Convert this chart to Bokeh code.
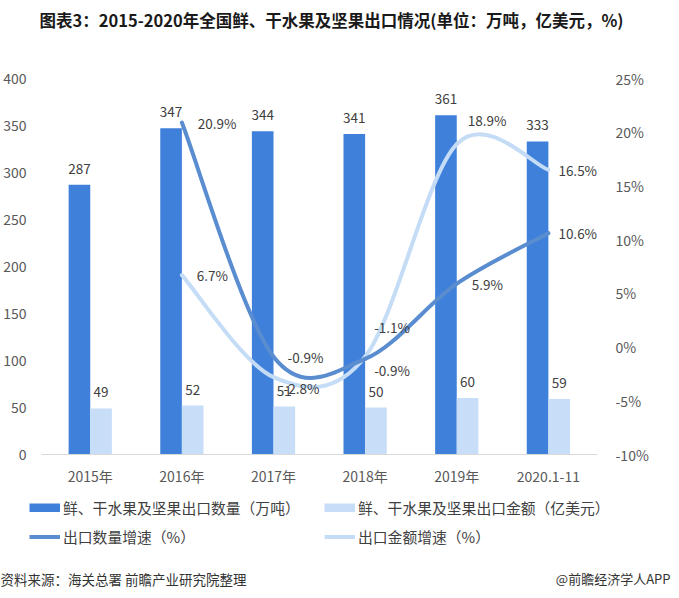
from bokeh.plotting import figure
from bokeh.layouts import column, row
from bokeh.models import (Range1d, LinearAxis, FixedTicker, PrintfTickFormatter,
                          ColumnDataSource, Legend, LegendItem, Label)
from bokeh.core.properties import value
from bokeh.transform import dodge
from bokeh.embed import file_html
from bokeh.resources import INLINE

# ---------------- data ----------------
categories = ["2015年", "2016年", "2017年", "2018年", "2019年", "2020.1-11"]
export_volume = [287, 347, 344, 341, 361, 333]          # 万吨
export_value = [49, 52, 51, 50, 60, 59]                 # 亿美元
volume_growth = [None, 20.9, -0.9, -1.1, 5.9, 10.6]     # %
value_growth = [None, 6.7, -2.8, -0.9, 18.9, 16.5]      # %
left_ticks = [0, 50, 100, 150, 200, 250, 300, 350, 400]
right_ticks = [-10, -5, 0, 5, 10, 15, 20, 25]
series_names = ["鲜、干水果及坚果出口数量（万吨）", "鲜、干水果及坚果出口金额（亿美元）",
                "出口数量增速（%）", "出口金额增速（%）"]
title_text = "图表3：2015-2020年全国鲜、干水果及坚果出口情况(单位：万吨，亿美元，%)"
source_text = "资料来源：海关总署 前瞻产业研究院整理"
credit_text = "@前瞻经济学人APP"

# ---------------- style ----------------
FONT = "Noto Sans CJK SC"
DARK = "#3f80db"
LIGHT = "#c8ddf7"
DARK_LINE = "#5a8dd0"
LIGHT_LINE = "#c4dcf6"
TXT = "#404040"
TICK = "#595959"
BAR_W = 0.236
BAR_OFF = 0.118
W = 671
NAN = float("nan")
# label offsets (screen px) for growth labels
vol_lbl_dx = [16, 14, 9, 15, 10]
vol_lbl_dy = [0, 0, -32, 0, 0]
val_lbl_dx = [15, 10, 9, 11, 10]
val_lbl_dy = [0, 11, 13, -24, 0]

xs = list(range(len(categories)))


def blank(height):
    f = figure(width=W, height=height, x_range=Range1d(0, W), y_range=Range1d(0, height),
               x_axis_type=None, y_axis_type=None, output_backend="svg", toolbar_location=None,
               min_border_left=0, min_border_right=0, min_border_top=0, min_border_bottom=0)
    f.outline_line_color = None
    f.background_fill_color = "white"
    f.border_fill_color = "white"
    f.xgrid.visible = False
    f.ygrid.visible = False
    return f


# ---------------- header ----------------
head = blank(44)
head.add_layout(Label(x=331, y=25, x_units="screen", y_units="screen", text=title_text,
                      text_align="center", text_baseline="middle", text_font=FONT,
                      text_font_size="16.5px", text_font_style="bold", text_color="#1a1a1a"))

# ---------------- main chart ----------------
p = figure(width=W, height=446, x_range=Range1d(-0.532, 5.536), y_range=Range1d(0, 400),
           output_backend="svg", toolbar_location=None,
           min_border_left=32, min_border_right=74, min_border_top=34, min_border_bottom=36)
p.outline_line_color = None
p.background_fill_color = "white"
p.border_fill_color = "white"
p.xgrid.visible = False
p.ygrid.visible = False
p.extra_y_ranges = {"pct": Range1d(-10, 25)}

ya = p.yaxis[0]
ya.ticker = FixedTicker(ticks=left_ticks)
ya.axis_line_color = None
ya.major_tick_line_color = None
ya.minor_tick_line_color = None
ya.major_label_standoff = 9
ya.major_label_text_font = FONT
ya.major_label_text_font_size = "14px"
ya.major_label_text_color = TICK

ra = LinearAxis(y_range_name="pct", ticker=FixedTicker(ticks=right_ticks),
                formatter=PrintfTickFormatter(format="%d%%"))
ra.axis_line_color = None
ra.major_tick_line_color = None
ra.minor_tick_line_color = None
ra.major_label_standoff = 12
ra.major_label_text_font = FONT
ra.major_label_text_font_size = "14px"
ra.major_label_text_color = TICK
p.add_layout(ra, "right")

xa = p.xaxis[0]
xa.ticker = FixedTicker(ticks=xs)
xa.major_label_overrides = {i: c for i, c in enumerate(categories)}
xa.axis_line_color = "#d9d9d9"
xa.axis_line_width = 1
xa.major_tick_line_color = None
xa.minor_tick_line_color = None
xa.major_label_standoff = 5
xa.major_label_text_font = FONT
xa.major_label_text_font_size = "14px"
xa.major_label_text_color = TICK

bsrc = ColumnDataSource(dict(x=xs, vol=export_volume, val=export_value,
                             vol_lbl=[str(v) for v in export_volume],
                             val_lbl=[str(v) for v in export_value]))
p.vbar(x=dodge("x", -BAR_OFF), top="vol", width=BAR_W, source=bsrc,
       fill_color=DARK, line_color=None)
p.vbar(x=dodge("x", BAR_OFF), top="val", width=BAR_W, source=bsrc,
       fill_color=LIGHT, line_color=None)
for col, lbl, off in (("vol", "vol_lbl", -BAR_OFF), ("val", "val_lbl", BAR_OFF)):
    p.text(x=dodge("x", off), y=col, text=lbl, source=bsrc, text_align="center",
           text_baseline="middle", y_offset=-16, text_font=value(FONT),
           text_font_size="13.5px", text_color=TXT)


def smooth_segments(xv, yv):
    pts = [(x, y) for x, y in zip(xv, yv) if y is not None]
    n = len(pts)
    seg = dict(x0=[], y0=[], x1=[], y1=[], cx0=[], cy0=[], cx1=[], cy1=[])
    for i in range(n - 1):
        pa = pts[i - 1] if i > 0 else pts[i]
        pb, pc = pts[i], pts[i + 1]
        pd = pts[i + 2] if i + 2 < n else pts[i + 1]
        seg["x0"].append(pb[0]); seg["y0"].append(pb[1])
        seg["x1"].append(pc[0]); seg["y1"].append(pc[1])
        seg["cx0"].append(pb[0] + (pc[0] - pa[0]) / 6)
        seg["cy0"].append(pb[1] + (pc[1] - pa[1]) / 6)
        seg["cx1"].append(pc[0] - (pd[0] - pb[0]) / 6)
        seg["cy1"].append(pc[1] - (pd[1] - pb[1]) / 6)
    return seg


for growth, color in ((value_growth, LIGHT_LINE), (volume_growth, DARK_LINE)):
    s = ColumnDataSource(smooth_segments(xs, growth))
    p.bezier(x0="x0", y0="y0", x1="x1", y1="y1", cx0="cx0", cy0="cy0", cx1="cx1", cy1="cy1",
             source=s, y_range_name="pct", line_color=color, line_width=4, line_cap="round")

for growth, dx, dy in ((volume_growth, vol_lbl_dx, vol_lbl_dy), (value_growth, val_lbl_dx, val_lbl_dy)):
    gx = [x for x, g in zip(xs, growth) if g is not None]
    gy = [g for g in growth if g is not None]
    ls = ColumnDataSource(dict(x=gx, y=gy, t=[f"{g}%" for g in gy], dx=dx, dy=dy))
    p.text(x="x", y="y", text="t", x_offset="dx", y_offset="dy", source=ls,
           y_range_name="pct", text_align="left", text_baseline="middle",
           text_font=value(FONT), text_font_size="13.5px", text_color=TXT)

# ---------------- legend + footer ----------------
foot = blank(100)
proxies = []
for color, lw in ((DARK, 9), (LIGHT, 9), (DARK_LINE, 4), (LIGHT_LINE, 4)):
    proxies.append(foot.line(x=[NAN, NAN], y=[NAN, NAN], line_color=color, line_width=lw))

legend_style = dict(orientation="vertical", glyph_width=31, glyph_height=9, label_height=20,
                    spacing=8, label_standoff=3, padding=0, margin=0, border_line_color=None,
                    background_fill_alpha=0, label_text_font=FONT,
                    label_text_font_size="14.8px", label_text_color=TXT)
leg_a = Legend(items=[LegendItem(label=series_names[0], renderers=[proxies[0]]),
                      LegendItem(label=series_names[2], renderers=[proxies[2]])],
               location=(29, 43), **legend_style)
leg_b = Legend(items=[LegendItem(label=series_names[1], renderers=[proxies[1]]),
                      LegendItem(label=series_names[3], renderers=[proxies[3]])],
               location=(324, 43), **legend_style)
foot.add_layout(leg_a, "center")
foot.add_layout(leg_b, "center")
foot.add_layout(Label(x=0, y=12, x_units="screen", y_units="screen", text=source_text,
                      text_align="left", text_baseline="middle", text_font=FONT,
                      text_font_size="13.5px", text_color="#333333"))
foot.add_layout(Label(x=670, y=12, x_units="screen", y_units="screen", text=credit_text,
                      text_align="right", text_baseline="middle", text_font=FONT,
                      text_font_size="13px", text_color="#333333"))

layout = column(row(head), p, row(foot), spacing=0)
open("out.html", "w").write(file_html(layout, INLINE))
